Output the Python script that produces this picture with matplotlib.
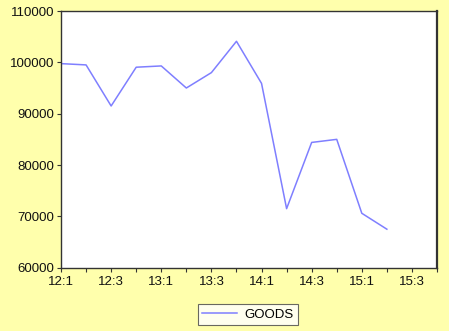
import matplotlib
matplotlib.use("Agg")
import matplotlib.pyplot as plt
from matplotlib.ticker import MultipleLocator, FixedLocator

plt.rcParams['font.family'] = ['Liberation Sans', 'DejaVu Sans']

series_name = "GOODS"
tick_labels = ["12:1", "12:3", "13:1", "13:3", "14:1", "14:3", "15:1", "15:3"]
goods = [99750, 99500, 91500, 99050, 99300, 95000, 98000, 104100,
         95900, 71500, 84400, 85000, 70600, 67500]
y_ticks = [60000, 70000, 80000, 90000, 100000, 110000]

bg = '#FFFFAC'
fig = plt.figure(figsize=(4.49, 3.31), dpi=100, facecolor=bg)
ax = fig.add_axes([61/449, 1 - 267.7/331, (437-61)/449, (267.7-11)/331])
ax.set_facecolor('white')

x = list(range(len(goods)))
line, = ax.plot(x, goods, color='#7F7FFF', lw=1.1, label=series_name)

ax.set_xlim(0, 15)
ax.set_ylim(60000, 110000)
ax.set_yticks(y_ticks)
ax.set_yticklabels([str(v) for v in y_ticks])
ax.xaxis.set_major_locator(FixedLocator(list(range(0, 16, 2))))
ax.set_xticklabels(tick_labels)
ax.xaxis.set_minor_locator(MultipleLocator(1))

ax.tick_params(axis='both', which='both', direction='out', length=3, width=0.8,
               color='#333333', labelsize=9.5, labelcolor='#111111')
ax.tick_params(axis='x', pad=3)
ax.tick_params(axis='y', pad=2)
ax.tick_params(top=False, right=False)

for s in ax.spines.values():
    s.set_color('#333333')
    s.set_linewidth(1.0)
ax.spines['right'].set_linewidth(1.6)

leg = fig.legend(handles=[line], loc='center', bbox_to_anchor=(248/449, 1 - 314.5/331),
                 frameon=True, fancybox=False, fontsize=9.5, handlelength=2.6,
                 borderpad=0.3, handletextpad=0.6, borderaxespad=0)
leg.get_frame().set_edgecolor('#444444')
leg.get_frame().set_linewidth(0.8)
leg.get_frame().set_facecolor('white')

fig.savefig('out.png', dpi=100, facecolor=bg)
